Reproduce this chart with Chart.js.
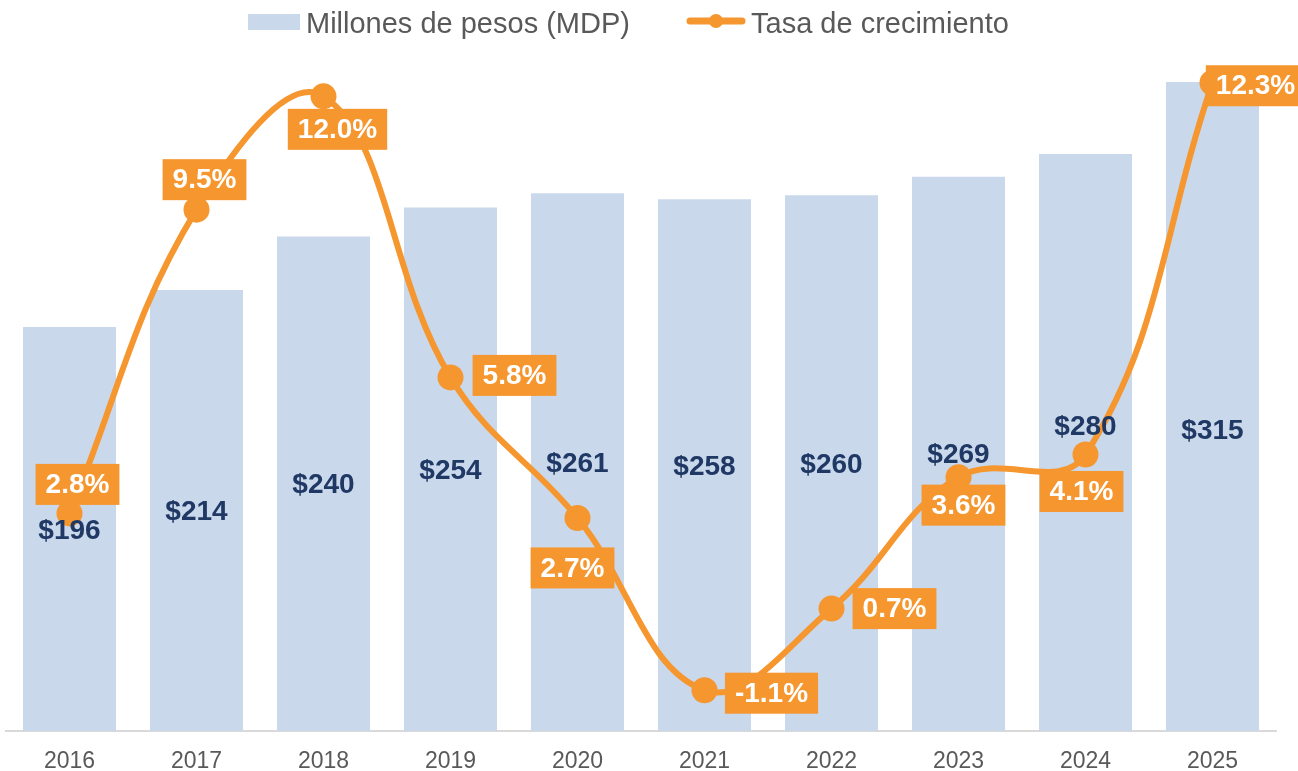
<!DOCTYPE html>
<html lang="es">
<head>
<meta charset="utf-8">
<title>Millones de pesos y tasa de crecimiento 2016-2025</title>
<script src="https://cdn.jsdelivr.net/npm/chart.js@4/dist/chart.umd.min.js"></script>
<style>
  html, body { margin: 0; padding: 0; background: #ffffff; }
  #wrap { width: 1298px; height: 771px; }
</style>
</head>
<body>
<div id="wrap"><canvas id="chart" width="1298" height="771"></canvas></div>
<script>
// Años
const years = ['2016', '2017', '2018', '2019', '2020', '2021', '2022', '2023', '2024', '2025'];
// Millones de pesos (MDP)
const mdp = [196, 214, 240, 254, 261, 258, 260, 269, 280, 315];
// Tasa de crecimiento anual (%)
const tasa = [2.8, 9.5, 12.0, 5.8, 2.7, -1.1, 0.7, 3.6, 4.1, 12.3];

const seriesNames = ['Millones de pesos (MDP)', 'Tasa de crecimiento'];

const BAR_COLOR = '#C9D8EB';
const LINE_COLOR = '#F5962F';
const NAVY = '#1F3864';
const GREY = '#595959';
const FONT = '"Liberation Sans", Arial, Helvetica, sans-serif';

// Label placement: vertical shift of the amount label inside each bar
const barLabelShift = [1, 1, 1, 1, 1, 1, 1, 0, -16, 24];
// Label placement: offset of each growth-rate box centre from its point
const rateLabelOffset = [
  [8, -29], [8, -30], [14, 33], [64, -2], [-5, 50],
  [67, 3], [63, 0], [5, 28], [-4, 37], [43, 3]
];

// Legend row drawn across the top of the canvas
const legendRow = {
  id: 'legendRow',
  afterDraw(chart) {
    const ctx = chart.ctx;
    ctx.save();
    ctx.font = '29px ' + FONT;
    ctx.textBaseline = 'alphabetic';
    ctx.textAlign = 'left';
    // bar swatch
    ctx.fillStyle = BAR_COLOR;
    ctx.fillRect(248, 14, 52, 16);
    ctx.fillStyle = GREY;
    ctx.fillText(seriesNames[0], 306, 33);
    // line swatch with marker
    ctx.strokeStyle = LINE_COLOR;
    ctx.lineWidth = 7;
    ctx.lineCap = 'round';
    ctx.beginPath();
    ctx.moveTo(690, 21);
    ctx.lineTo(742, 21);
    ctx.stroke();
    ctx.fillStyle = LINE_COLOR;
    ctx.beginPath();
    ctx.arc(716, 21, 7, 0, Math.PI * 2);
    ctx.fill();
    ctx.fillStyle = GREY;
    ctx.fillText(seriesNames[1], 751, 33);
    ctx.restore();
  }
};

// Value labels: amounts inside bars, growth rates in orange boxes
const valueLabels = {
  id: 'valueLabels',
  afterDatasetsDraw(chart) {
    const ctx = chart.ctx;
    const barMeta = chart.getDatasetMeta(0);
    const lineMeta = chart.getDatasetMeta(1);
    ctx.save();
    ctx.textAlign = 'center';
    ctx.textBaseline = 'middle';
    ctx.font = 'bold 28px ' + FONT;
    ctx.fillStyle = NAVY;
    barMeta.data.forEach((bar, i) => {
      const cy = (bar.y + bar.base) / 2 + barLabelShift[i];
      ctx.fillText('$' + mdp[i], bar.x, cy + 1);
    });
    lineMeta.data.forEach((pt, i) => {
      const txt = tasa[i].toFixed(1) + '%';
      const w = ctx.measureText(txt).width + 20;
      const h = 41;
      const cx = pt.x + rateLabelOffset[i][0];
      const cy = pt.y + rateLabelOffset[i][1];
      ctx.fillStyle = LINE_COLOR;
      ctx.fillRect(cx - w / 2, cy - h / 2, w, h);
      ctx.fillStyle = '#FFFFFF';
      ctx.fillText(txt, cx, cy + 1);
    });
    ctx.restore();
  }
};

new Chart(document.getElementById('chart'), {
  data: {
    labels: years,
    datasets: [
      {
        type: 'bar',
        label: seriesNames[0],
        data: mdp,
        yAxisID: 'yMdp',
        backgroundColor: BAR_COLOR,
        borderWidth: 0,
        barPercentage: 0.732,
        categoryPercentage: 1,
        order: 2
      },
      {
        type: 'line',
        label: seriesNames[1],
        data: tasa,
        yAxisID: 'yTasa',
        borderColor: LINE_COLOR,
        backgroundColor: LINE_COLOR,
        borderWidth: 6,
        tension: 0.4,
        pointRadius: 13,
        pointHoverRadius: 13,
        pointBackgroundColor: LINE_COLOR,
        pointBorderWidth: 0,
        clip: false,
        order: 1
      }
    ]
  },
  options: {
    responsive: false,
    animation: false,
    layout: { autoPadding: false, padding: { top: 51, left: 6, right: 22, bottom: 0 } },
    plugins: {
      legend: { display: false },
      tooltip: { enabled: false }
    },
    scales: {
      x: {
        grid: { display: false, drawTicks: false },
        border: { display: true, color: '#D9D9D9', width: 2 },
        ticks: {
          color: GREY,
          font: { family: FONT, size: 23 },
          padding: 17
        },
        afterFit(scale) {
          scale.height = 40;
          scale.paddingLeft = 0;
          scale.paddingRight = 0;
        }
      },
      yMdp: {
        display: false,
        position: 'left',
        min: 0,
        max: 330
      },
      yTasa: {
        display: false,
        position: 'right',
        min: -2,
        max: 13
      }
    }
  },
  plugins: [valueLabels, legendRow]
});
</script>
</body>
</html>
